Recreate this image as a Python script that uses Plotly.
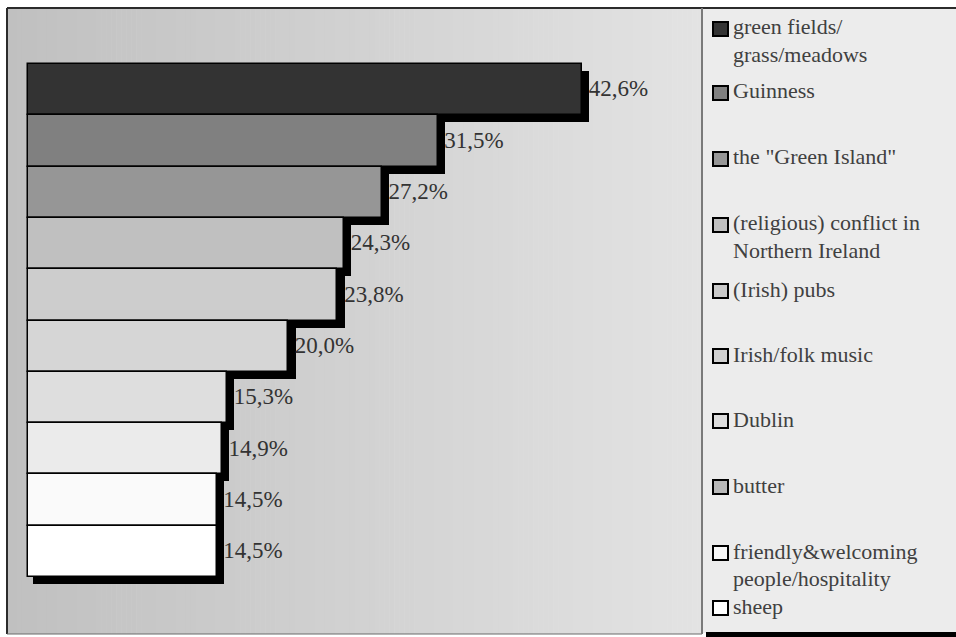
import plotly.graph_objects as go

# ---- data -----------------------------------------------------------------
categories = [
    "green fields/grass/meadows",
    "Guinness",
    'the "Green Island"',
    "(religious) conflict in Northern Ireland",
    "(Irish) pubs",
    "Irish/folk music",
    "Dublin",
    "butter",
    "friendly&welcoming people/hospitality",
    "sheep",
]
values = [42.6, 31.5, 27.2, 24.3, 23.8, 20.0, 15.3, 14.9, 14.5, 14.5]
legend_labels = [
    "green fields/<br>grass/meadows",
    "Guinness",
    'the "Green Island"',
    "(religious) conflict in<br>Northern Ireland",
    "(Irish) pubs",
    "Irish/folk music",
    "Dublin",
    "butter",
    "friendly&welcoming<br>people/hospitality",
    "sheep",
]

# ---- styling ----------------------------------------------------------------
bar_colors = ["#333333", "#808080", "#969696", "#c0c0c0", "#cdcdcd",
              "#d6d6d6", "#dedede", "#ebebeb", "#fafafa", "#ffffff"]
swatch_colors = ["#333333", "#808080", "#969696", "#c0c0c0", "#c9c9c9",
                 "#d0d0d0", "#dcdcdc", "#b8b8b8", "#f8f8f8", "#ffffff"]

W, H = 956, 637
FONT = "Liberation Serif"

# pixel geometry of the chart frame
FRAME_L, FRAME_T, FRAME_R, FRAME_B = 7, 8, 702, 634
X0_PX = 28            # pixel where 0 % sits
PX_PER_PCT = 13.0     # horizontal scale
BAR_TOP_PX = 64       # top edge of first bar
BAR_PX = 51.3         # height of one bar slot
SHADOW_DX_R, SHADOW_DX_L, SHADOW_DY = 7.5, 5.0, 7.0


def px(x):
    return x / W


def py(y):
    return 1 - y / H


n = len(values)
pos = list(range(n))

# axis ranges derived from pixel geometry
x_min = -X0_PX / PX_PER_PCT
x_max = (W - X0_PX) / PX_PER_PCT
y_top = -0.5 - BAR_TOP_PX / BAR_PX
y_bot = -0.5 + (H - BAR_TOP_PX) / BAR_PX

sh_base = SHADOW_DX_L / PX_PER_PCT
sh_extra = (SHADOW_DX_R - SHADOW_DX_L) / PX_PER_PCT
sh_dy = SHADOW_DY / BAR_PX

fig = go.Figure()

# drop shadows
fig.add_trace(go.Bar(
    orientation="h",
    y=[p + sh_dy for p in pos],
    x=[v + sh_extra for v in values],
    base=sh_base,
    width=1,
    marker=dict(color="#000000", line=dict(width=0)),
    hoverinfo="skip",
    showlegend=False,
))

# bars
fig.add_trace(go.Bar(
    orientation="h",
    y=pos,
    x=values,
    width=1,
    marker=dict(color=bar_colors, line=dict(color="#000000", width=1.5)),
    hovertext=categories,
    showlegend=False,
))

# value labels
fig.add_trace(go.Scatter(
    x=[v + SHADOW_DX_R / PX_PER_PCT - 0.05 for v in values],
    y=[p + 0.02 for p in pos],
    mode="text",
    text=[f"{v:.1f}%".replace(".", ",") for v in values],
    textposition="middle right",
    textfont=dict(family=FONT, size=23, color="#333333"),
    hoverinfo="skip",
    showlegend=False,
    cliponaxis=False,
))

shapes = []

# horizontal grey gradient behind the bars
N_STRIPS = 140
c_left, c_right = 192, 227
for k in range(N_STRIPS):
    x0 = FRAME_L + (FRAME_R - FRAME_L) * k / N_STRIPS
    x1 = FRAME_L + (FRAME_R - FRAME_L) * (k + 1) / N_STRIPS + 0.6
    g = round(c_left + (c_right - c_left) * (k + 0.5) / N_STRIPS)
    shapes.append(dict(type="rect", xref="paper", yref="paper",
                       x0=px(x0), x1=px(min(x1, FRAME_R)), y0=py(FRAME_B), y1=py(FRAME_T),
                       fillcolor=f"rgb({g},{g},{g})", line=dict(width=0), layer="below"))

# legend panel
shapes.append(dict(type="rect", xref="paper", yref="paper",
                   x0=px(FRAME_R), x1=px(W + 2), y0=py(FRAME_B - 1), y1=py(FRAME_T),
                   fillcolor="#ececec", line=dict(width=0), layer="below"))
# legend panel shadow along bottom
shapes.append(dict(type="rect", xref="paper", yref="paper",
                   x0=px(706), x1=px(W + 2), y0=py(H + 1), y1=py(632),
                   fillcolor="#000000", line=dict(width=0), layer="below"))

# frame lines
shapes += [
    dict(type="line", xref="paper", yref="paper", x0=px(FRAME_L), x1=px(W + 2),
         y0=py(FRAME_T), y1=py(FRAME_T), line=dict(color="#2b2b2b", width=2), layer="above"),
    dict(type="line", xref="paper", yref="paper", x0=px(FRAME_L), x1=px(FRAME_L),
         y0=py(FRAME_T), y1=py(FRAME_B), line=dict(color="#2b2b2b", width=2), layer="above"),
    dict(type="line", xref="paper", yref="paper", x0=px(FRAME_L), x1=px(FRAME_R),
         y0=py(FRAME_B), y1=py(FRAME_B), line=dict(color="#6a6a6a", width=1), layer="above"),
    dict(type="line", xref="paper", yref="paper", x0=px(FRAME_R), x1=px(FRAME_R),
         y0=py(FRAME_T), y1=py(FRAME_B), line=dict(color="#7a7a7a", width=2), layer="above"),
]

# hand-built legend: swatch + wrapped label
LEGEND_ROWS = [29, 93, 159, 225, 291, 356, 421, 487, 553, 608]
LINE_H = 27
SW_X0, SW_X1 = 713, 728
annotations = []
for label, col, yc in zip(legend_labels, swatch_colors, LEGEND_ROWS):
    shapes.append(dict(type="rect", xref="paper", yref="paper",
                       x0=px(SW_X0), x1=px(SW_X1), y0=py(yc + 7), y1=py(yc - 7),
                       fillcolor=col, line=dict(color="#000000", width=2), layer="above"))
    for k, line in enumerate(label.split("<br>")):
        annotations.append(dict(
            xref="paper", yref="paper", x=px(731), y=py(yc + k * LINE_H - 2),
            xanchor="left", yanchor="middle", showarrow=False, text=line,
            font=dict(family=FONT, size=22, color="#404040"),
        ))

fig.update_layout(
    width=W, height=H,
    margin=dict(l=0, r=0, t=0, b=0),
    paper_bgcolor="#ffffff",
    plot_bgcolor="rgba(0,0,0,0)",
    barmode="overlay",
    bargap=0,
    showlegend=False,
    xaxis=dict(range=[x_min, x_max], domain=[0, 1], visible=False, fixedrange=True),
    yaxis=dict(range=[y_bot, y_top], domain=[0, 1], visible=False, fixedrange=True),
    shapes=shapes,
    annotations=annotations,
)

fig.write_html("out.html", config={"displayModeBar": False})
